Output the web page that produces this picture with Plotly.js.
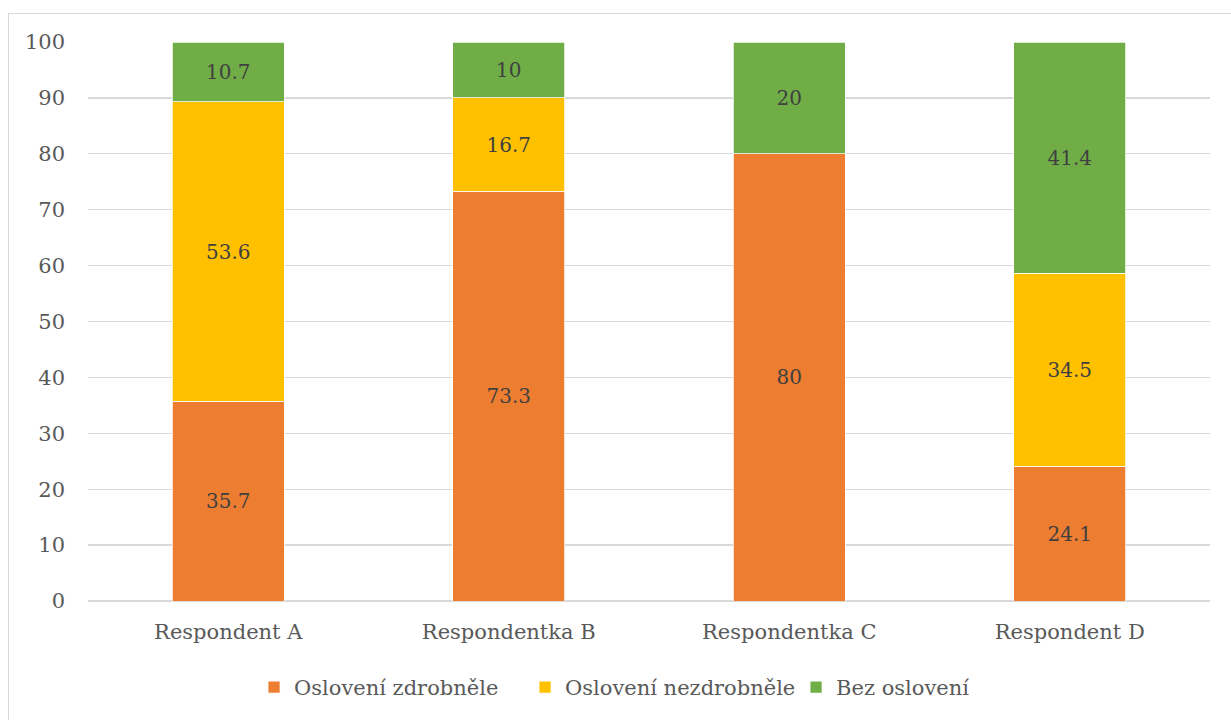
<!DOCTYPE html>
<html><head><meta charset="utf-8">
<script src="https://cdn.plot.ly/plotly-3.0.1.min.js"></script>
<style>
html,body{margin:0;padding:0;background:#fff;}
#wrap{position:relative;width:1231px;height:720px;}
#chart{width:1231px;height:720px;}
#frame{position:absolute;left:8px;top:13px;width:1222px;height:720px;border:1px solid #d9d9d9;pointer-events:none;}
</style></head>
<body><div id="wrap"><div id="chart"></div><div id="frame"></div></div>
<script>
const categories = ["Respondent A", "Respondentka B", "Respondentka C", "Respondent D"];
const zdrobnele = [35.7, 73.3, 80, 24.1];
const nezdrobnele = [53.6, 16.7, null, 34.5];
const bezOsloveni = [10.7, 10, 20, 41.4];
const seriesNames = ["Oslovení zdrobněle", "Oslovení nezdrobněle", "Bez oslovení"];
const colors = ["#ed7d31", "#ffc000", "#70ad47"];
const font = "DejaVu Serif";

const vals = [zdrobnele, nezdrobnele, bezOsloveni];
const traces = vals.map((v, i) => ({
  type: "bar",
  name: seriesNames[i],
  x: categories,
  y: v,
  text: v.map(d => d == null ? "" : String(d)),
  textposition: "inside",
  insidetextanchor: "middle",
  textfont: {family: font, size: 20, color: "#404040"},
  marker: {color: colors[i], line: {color: "#ffffff", width: 0.75}},
  hoverinfo: "skip"
}));

const layout = {
  width: 1231, height: 720,
  barmode: "stack",
  bargap: 0.6,
  margin: {l: 88, r: 21, t: 42, b: 119, autoexpand: false},
  paper_bgcolor: "#ffffff",
  plot_bgcolor: "#ffffff",
  font: {family: font, size: 20, color: "#595959"},
  xaxis: {showline: false, ticks: "", automargin: false, ticklabelstandoff: 16, tickfont: {family: font, size: 21, color: "#595959"}, fixedrange: true},
  yaxis: {range: [0, 100], dtick: 10, automargin: false, gridcolor: "#d9d9d9", gridwidth: 1.3, zeroline: true, zerolinecolor: "#d9d9d9", zerolinewidth: 1.3,
          ticks: "", ticklabelstandoff: 22, tickfont: {family: font, size: 21, color: "#595959"}, fixedrange: true},
  showlegend: true,
  legend: {orientation: "h", x: 0.148, xanchor: "left", y: -0.118, yanchor: "top", font: {family: font, size: 21, color: "#595959"},
           traceorder: "normal", itemwidth: 30, entrywidth: 226, entrywidthmode: "pixels"},
  uniformtext: {mode: "show", minsize: 20}
};
Plotly.newPlot("chart", traces, layout, {displayModeBar: false, staticPlot: true});
</script></body></html>
